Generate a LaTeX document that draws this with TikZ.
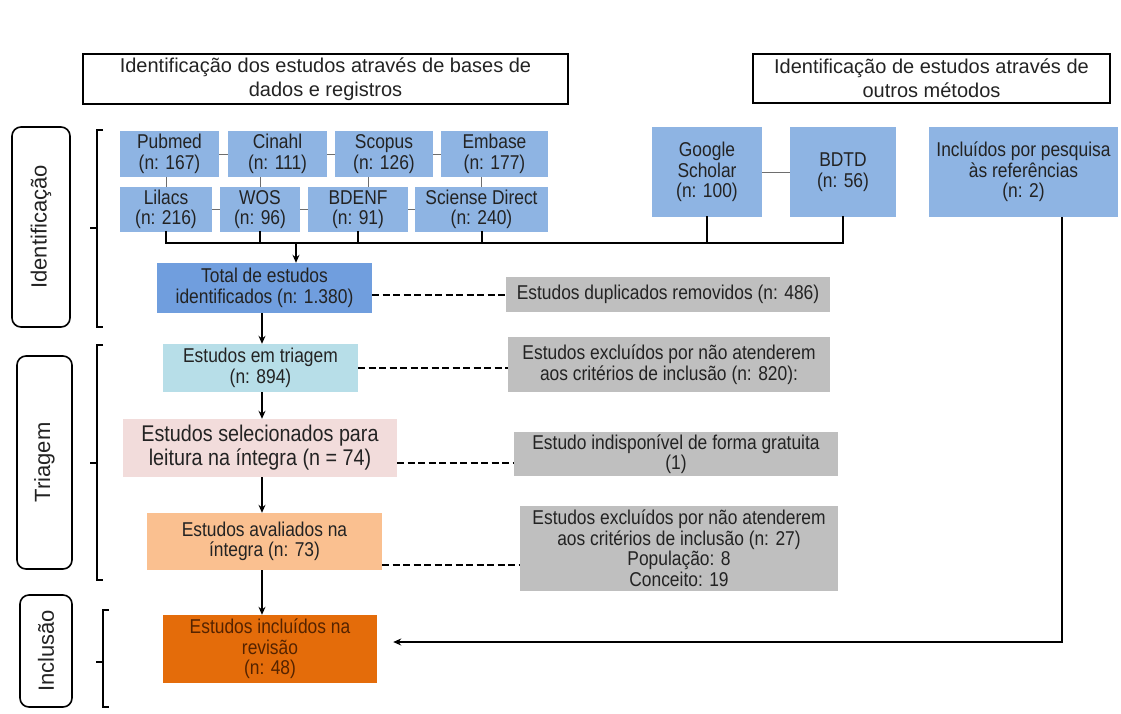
\documentclass[tikz,border=0pt]{standalone}
\usepackage{fontspec}
\setmainfont{Liberation Sans}
\newfontfamily\condfont{Liberation Sans}[FakeStretch=0.87]
\usetikzlibrary{arrows.meta}
\definecolor{dbblue}{RGB}{142,180,227}
\definecolor{totblue}{RGB}{112,158,222}
\definecolor{triacyan}{RGB}{183,222,232}
\definecolor{selpink}{RGB}{242,220,219}
\definecolor{avpeach}{RGB}{250,192,144}
\definecolor{incorange}{RGB}{228,108,10}
\definecolor{exgray}{RGB}{191,191,191}
\definecolor{linegray}{RGB}{110,110,110}
\definecolor{txt}{RGB}{35,35,35}
\definecolor{inctxt}{RGB}{85,35,0}
\tikzset{
  fbox/.style={rectangle, inner sep=0pt, align=center, text=txt, font={\fontsize{20}{20.5}\condfont}},
  db/.style={fbox, fill=dbblue},
  hdr/.style={rectangle, draw=black, line width=1.6pt, inner sep=0pt, align=center, text=txt, font=\fontsize{20}{24}\selectfont},
  phase/.style={rectangle, rounded corners=9pt, draw=black, line width=1.6pt, inner sep=0pt, text=txt, font=\fontsize{22}{26}\selectfont},
  thinln/.style={draw=linegray, line width=1pt},
  bus/.style={draw=black, line width=2pt, line cap=rect},
  arr/.style={draw=black, line width=2pt, -{Stealth[length=8pt,width=7pt]}},
  dashln/.style={draw=black, line width=2pt, dash pattern=on 7pt off 3.5pt},
  bracket/.style={draw=black, line width=1.6pt},
}
\begin{document}
\begin{tikzpicture}[x=1pt,y=-1pt]
\useasboundingbox (0,0) rectangle (1121,713);
% headers
\node[hdr, minimum width=485pt, minimum height=50pt] (hdrL) at (325.5,79) {Identificação dos estudos através de bases de\\dados e registros};
\node[hdr, minimum width=357pt, minimum height=49pt] (hdrR) at (931.5,78.5) {Identificação de estudos através de\\outros métodos};
% phase labels
\node[phase, rotate=90, minimum width=200pt, minimum height=58pt] (phId) at (41,227) {Identificação};
\node[phase, rotate=90, minimum width=213pt, minimum height=55pt] (phTr) at (44.5,462.5) {Triagem};
\node[phase, rotate=90, minimum width=112pt, minimum height=52pt] (phIn) at (46,651) {Inclusão};
% brackets
\draw[bracket] (103,130) -- (97,130) -- (97,327) -- (103,327);
\draw[bracket] (97,228) -- (90,228);
\draw[bracket] (103,345) -- (97,345) -- (97,580) -- (103,580);
\draw[bracket] (97,463) -- (90,463);
\draw[bracket] (109,610) -- (103,610) -- (103,707) -- (109,707);
\draw[bracket] (103,662) -- (96,662);
% databases
\node[db, minimum width=99pt, minimum height=46pt] (pubmed) at (169.5,154) {Pubmed\\(n: 167)};
\node[db, minimum width=99pt, minimum height=46pt] (cinahl) at (277.5,154) {Cinahl\\(n: 111)};
\node[db, minimum width=98pt, minimum height=46pt] (scopus) at (384,154) {Scopus\\(n: 126)};
\node[db, minimum width=107pt, minimum height=46pt] (embase) at (494.5,154) {Embase\\(n: 177)};
\node[db, minimum width=92pt, minimum height=45pt] (lilacs) at (166,209.5) {Lilacs\\(n: 216)};
\node[db, minimum width=80pt, minimum height=45pt] (wos) at (260,209.5) {WOS\\(n: 96)};
\node[db, minimum width=100pt, minimum height=45pt] (bdenf) at (358,209.5) {BDENF\\(n: 91)};
\node[db, minimum width=133pt, minimum height=45pt] (sciense) at (481.5,209.5) {Sciense Direct\\(n: 240)};
\node[db, minimum width=110pt, minimum height=90pt] (gs) at (707,172) {Google\\Scholar\\(n: 100)};
\node[db, minimum width=106pt, minimum height=90pt] (bdtd) at (843,172) {BDTD\\(n: 56)};
\node[db, minimum width=189pt, minimum height=90pt] (incref) at (1023.5,172) {Incluídos por pesquisa\\às referências\\(n: 2)};
% flow boxes
\node[fbox, fill=totblue, minimum width=215pt, minimum height=50pt] (total) at (264.5,288) {Total de estudos\\identificados (n: 1.380)};
\node[fbox, fill=exgray, minimum width=324pt, minimum height=35pt] (dup) at (668,294.5) {Estudos duplicados removidos (n: 486)};
\node[fbox, fill=triacyan, minimum width=195pt, minimum height=48pt] (triagem) at (260.5,368) {Estudos em triagem\\(n: 894)};
\node[fbox, fill=exgray, minimum width=322pt, minimum height=55pt] (excl1) at (669,364.5) {Estudos excluídos por não atenderem\\aos critérios de inclusão (n: 820):};
\node[fbox, fill=selpink, minimum width=274pt, minimum height=58pt, font={\fontsize{22.7}{24}\condfont}] (selec) at (260,448) {Estudos selecionados para\\leitura na íntegra (n = 74)};
\node[fbox, fill=exgray, minimum width=324pt, minimum height=44pt] (indisp) at (676,454) {Estudo indisponível de forma gratuita\\(1)};
\node[fbox, fill=avpeach, minimum width=235pt, minimum height=57pt] (aval) at (264.5,541.5) {Estudos avaliados na\\íntegra (n: 73)};
\node[fbox, fill=exgray, minimum width=318pt, minimum height=85pt] (excl2) at (679,548) {Estudos excluídos por não atenderem\\aos critérios de inclusão (n: 27)\\População: 8\\Conceito: 19};
\node[fbox, fill=incorange, text=inctxt, minimum width=214pt, minimum height=68pt] (incl) at (270,649) {Estudos incluídos na\\revisão\\(n: 48)};
% thin connectors between databases
\draw[thinln] (pubmed) -- (cinahl);
\draw[thinln] (cinahl) -- (scopus);
\draw[thinln] (scopus) -- (embase);
\draw[thinln] (lilacs) -- (wos);
\draw[thinln] (wos) -- (bdenf);
\draw[thinln] (bdenf) -- (sciense);
\draw[thinln] (lilacs.north |- pubmed.south) -- (lilacs.north);
\draw[thinln] (wos.north |- cinahl.south) -- (wos.north);
\draw[thinln] ([xshift=10pt]bdenf.north |- scopus.south) -- ([xshift=10pt]bdenf.north);
\draw[thinln] (sciense.north |- embase.south) -- (sciense.north);
\draw[thinln] (gs) -- (bdtd);
% collecting bus
\coordinate (busy) at (0,243);
\draw[bus] (lilacs.south) -- (lilacs.south |- busy);
\draw[bus] (wos.south) -- (wos.south |- busy);
\draw[bus] (bdenf.south) -- (bdenf.south |- busy);
\draw[bus] (sciense.south) -- (sciense.south |- busy);
\draw[bus] (gs.south) -- (gs.south |- busy);
\draw[bus] (bdtd.south) -- (bdtd.south |- busy);
\draw[bus] (lilacs.south |- busy) -- (bdtd.south |- busy);
\coordinate (ain) at (296,243);
\draw[arr] (ain) -- (ain |- total.north);
% main vertical arrows
\coordinate (ax) at (262,0);
\draw[arr] (ax |- total.south) -- (ax |- triagem.north);
\draw[arr] (ax |- triagem.south) -- (ax |- selec.north);
\draw[arr] (ax |- selec.south) -- (ax |- aval.north);
\draw[arr] (ax |- aval.south) -- (ax |- incl.north);
% dashed exclusions
\draw[dashln] (total.east |- dup.west) -- (dup.west);
\draw[dashln] (triagem.east) -- (triagem.east -| excl1.west);
\coordinate (d3) at (0,463);
\draw[dashln] (selec.east |- d3) -- (indisp.west |- d3);
\coordinate (d4) at (0,565);
\draw[dashln] (aval.east |- d4) -- (excl2.west |- d4);
% references path
\coordinate (rc) at (1062,642);
\draw[arr, shorten >=16pt] (incref.south -| rc) -- (rc) -- (incl.east |- rc);
\end{tikzpicture}
\end{document}
